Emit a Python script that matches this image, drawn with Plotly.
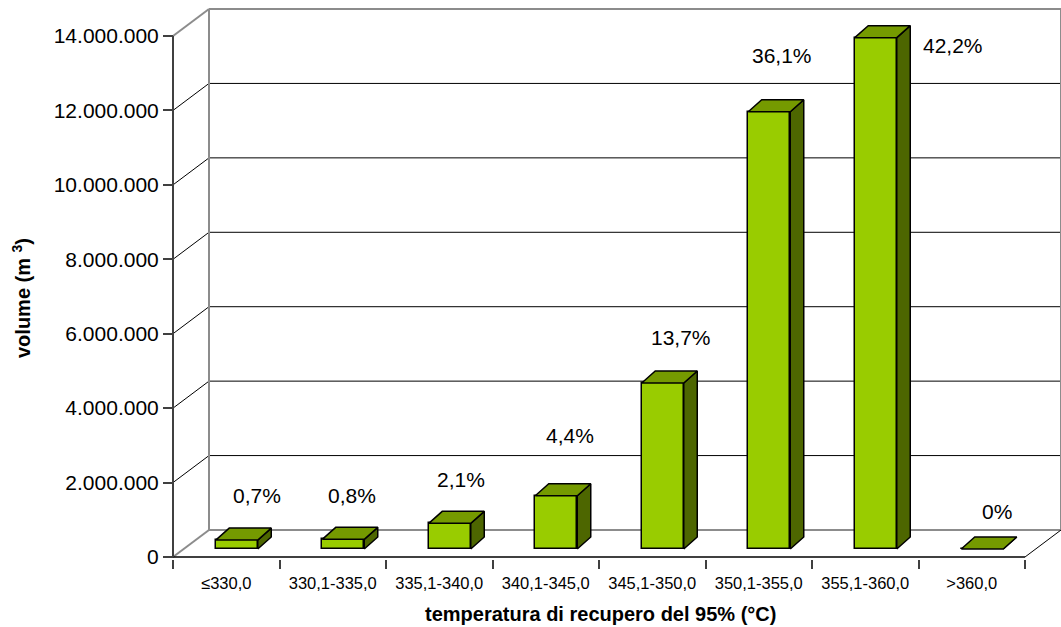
import plotly.graph_objects as go

# ---------------- data ----------------
categories = ["≤330,0", "330,1-335,0", "335,1-340,0", "340,1-345,0",
              "345,1-350,0", "350,1-355,0", "355,1-360,0", ">360,0"]
volumes = [240000, 260000, 690000, 1430000, 4460000, 11750000, 13740000, 0]
pct_labels = ["0,7%", "0,8%", "2,1%", "4,4%", "13,7%", "36,1%", "42,2%", "0%"]
y_ticks = [0, 2000000, 4000000, 6000000, 8000000, 10000000, 12000000, 14000000]

# ---------------- geometry (pixels) ----------------
W, H = 1061, 627
X0, Y0 = 173, 557          # front-left corner of the floor
KX = 106.5                 # px per category
KY = 521 / 14e6            # px per m3
WALL_DX, WALL_DY = 36, 27  # depth of the chart box
BAR_DX, BAR_DY = 13.5, 12  # depth of a bar
BAR_SHIFT_X, BAR_SHIFT_Y = 10.5, 8
BAR_W = 42
PAD_L, PAD_B, TOP = 4, 2, 6

left_px, right_px = X0 - PAD_L, W
top_px, bottom_px = TOP, Y0 + PAD_B


def dx(px):
    return px / KX


def dy(px):
    return px / KY


def paper_x(px):
    return (px - left_px) / (right_px - left_px)


def paper_y(py):
    return (bottom_px - py) / (bottom_px - top_px)


n = len(categories)
xl, xr = -0.5, n - 0.5
wdx, wdy = dx(WALL_DX), dy(WALL_DY)
ymax = y_ticks[-1]

FRONT = "#99CC00"
TOPC = "#759A00"
SIDE = "#4D6600"
GRAY = "#8C8C8C"
AX = "#404040"
FONT = "Liberation Sans, Arial, sans-serif"

shapes = []


def seg(x0, y0, x1, y1, color, width):
    shapes.append(dict(type="line", xref="x", yref="y", x0=x0, y0=y0, x1=x1, y1=y1,
                       line=dict(color=color, width=width), layer="below"))


# back wall gridlines + left wall diagonals
for t in y_ticks[1:-1]:
    seg(xl + wdx, t + wdy, xr + wdx, t + wdy, "black", 1)
    seg(xl, t, xl + wdx, t + wdy, "black", 1)
# top edges
seg(xl, ymax, xl + wdx, ymax + wdy, GRAY, 2)
seg(xl + wdx, ymax + wdy, xr + wdx, ymax + wdy, GRAY, 2)
# back wall verticals
seg(xl + wdx, wdy, xl + wdx, ymax + wdy, GRAY, 2)
seg(xr + wdx, wdy, xr + wdx, ymax + wdy, GRAY, 2)
# floor
seg(xl + wdx, wdy, xr + wdx, wdy, GRAY, 2)
seg(xl, 0, xl + wdx, wdy, GRAY, 2)
seg(xl, 0, xr, 0, "black", 1.5)
seg(xr, 0, xr + wdx, wdy, "black", 1)
# front value axis line
seg(xl, 0, xl, ymax, AX, 2)

# ---------------- bars ----------------
base = dy(BAR_SHIFT_Y)
bw = dx(BAR_W)
boff = dx(BAR_SHIFT_X) - bw / 2
bdx, bdy = dx(BAR_DX), dy(BAR_DY)

fig = go.Figure()
fig.add_trace(go.Bar(
    x=list(range(n)), y=volumes, base=base, width=bw, offset=boff,
    marker=dict(color=FRONT, line=dict(color="black", width=1.5)),
    hoverinfo="skip", showlegend=False))

top_x, top_y, side_x, side_y = [], [], [], []
for i, v in enumerate(volumes):
    x_a = i + boff
    x_b = x_a + bw
    yb = base
    yt = base + v
    top_x += [x_a, x_b, x_b + bdx, x_a + bdx, x_a, None]
    top_y += [yt, yt, yt + bdy, yt + bdy, yt, None]
    side_x += [x_b, x_b, x_b + bdx, x_b + bdx, x_b, None]
    side_y += [yb, yt, yt + bdy, yb + bdy, yb, None]

fig.add_trace(go.Scatter(x=side_x, y=side_y, mode="lines", fill="toself",
                         fillcolor=SIDE, line=dict(color="black", width=1.5),
                         hoverinfo="skip", showlegend=False))
fig.add_trace(go.Scatter(x=top_x, y=top_y, mode="lines", fill="toself",
                         fillcolor=TOPC, line=dict(color="black", width=1.5),
                         hoverinfo="skip", showlegend=False))

# ---------------- labels ----------------
label_dx = [31, 19, 22, 24, 29, 23, 88, 25]
label_dy = [45, 44, 44, 60, 46, 56, -8, 38]
annotations = []
for i, (v, txt) in enumerate(zip(volumes, pct_labels)):
    annotations.append(dict(x=i, y=base + v, xref="x", yref="y", text=txt,
                            showarrow=False, xanchor="center", yanchor="middle",
                            xshift=label_dx[i], yshift=label_dy[i],
                            font=dict(family=FONT, size=21, color="black")))

annotations.append(dict(x=paper_x(600), y=paper_y(614), xref="paper", yref="paper",
                        text="<b>temperatura di recupero del 95% (°C)</b>",
                        showarrow=False, xanchor="center", yanchor="middle",
                        font=dict(family=FONT, size=20, color="black")))
annotations.append(dict(x=paper_x(21), y=paper_y(298), xref="paper", yref="paper",
                        text="<b>volume (m <sup>3</sup>)</b>", textangle=-90,
                        showarrow=False, xanchor="center", yanchor="middle",
                        font=dict(family=FONT, size=20, color="black")))

fig.update_layout(
    width=W, height=H,
    margin=dict(l=left_px, r=W - right_px, t=top_px, b=H - bottom_px, pad=0),
    paper_bgcolor="white", plot_bgcolor="white",
    separators=",.",
    shapes=shapes, annotations=annotations,
    bargap=0,
    xaxis=dict(range=[xl - dx(PAD_L), xl + dx(right_px - X0)],
               tickmode="array", tickvals=list(range(n)), ticktext=categories,
               ticks="", showgrid=False, zeroline=False, showline=False,
               ticklabelstandoff=12,
               tickfont=dict(family=FONT, size=16.5, color="black"),
               minor=dict(tickmode="array", tickvals=[i - 0.5 for i in range(n + 1)],
                          ticks="outside", ticklen=9, tickwidth=1.5, tickcolor=AX,
                          showgrid=False),
               fixedrange=True),
    yaxis=dict(range=[-dy(PAD_B), dy(Y0 - top_px)],
               anchor="free", position=paper_x(X0),
               tickmode="array", tickvals=y_ticks, tickformat=",.0f",
               ticks="outside", ticklen=10, tickwidth=1.5, tickcolor=AX,
               showgrid=False, zeroline=False, showline=False,
               tickfont=dict(family=FONT, size=21, color="black"),
               fixedrange=True),
)

fig.write_html("out.html", config={"displayModeBar": False},
               post_script="document.body.style.margin='0';document.body.style.padding='0';")
